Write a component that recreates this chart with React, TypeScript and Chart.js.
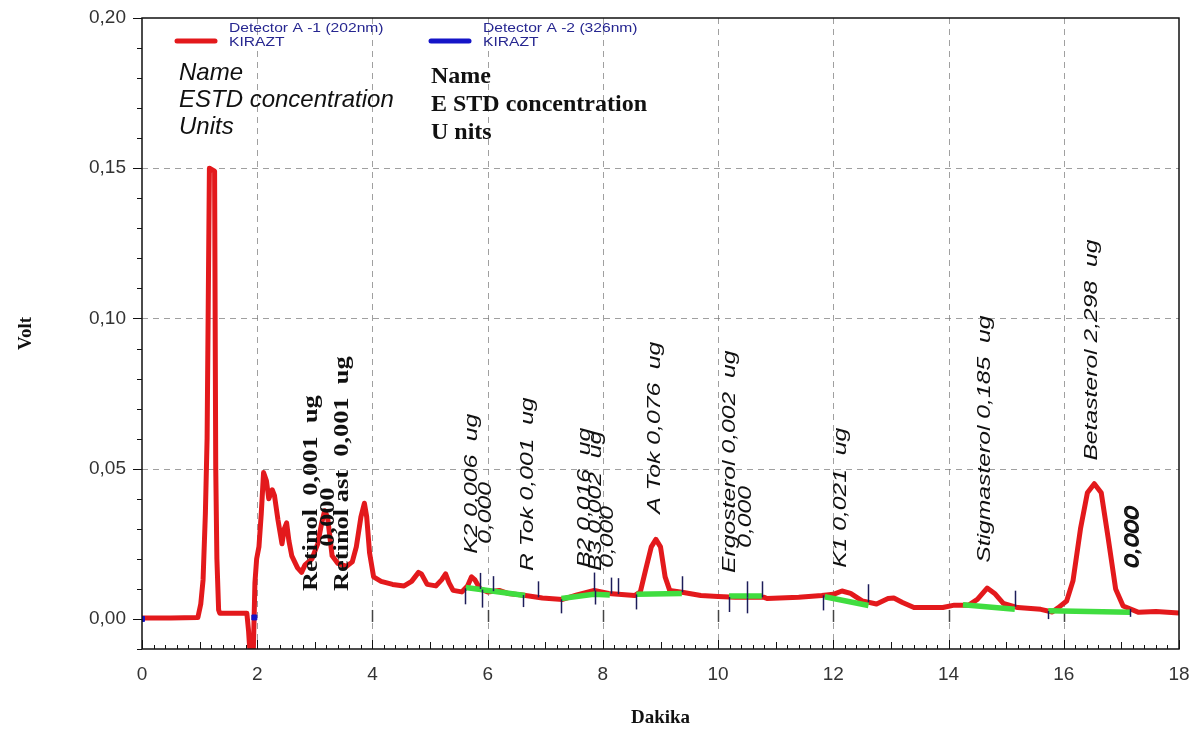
import { useEffect, useRef } from 'react';
import { Chart, registerables } from 'chart.js';
Chart.register(...registerables);

// ---------- data ----------
const xTickValues = [0, 2, 4, 6, 8, 10, 12, 14, 16, 18];
const yTickValues = [0, 0.05, 0.1, 0.15, 0.2];

// Detector A-1 (202nm) trace: time (min) / signal (V)
const redX = [
  0.0, 0.5, 0.97, 1.02, 1.06, 1.1, 1.13, 1.15, 1.17, 1.26, 1.28, 1.3, 1.33, 1.35, 1.82, 1.85, 1.88, 1.93,
  1.96, 1.99, 2.03, 2.07, 2.11, 2.16, 2.2, 2.26, 2.3, 2.36, 2.43, 2.47, 2.51, 2.55, 2.6, 2.7, 2.77, 2.83,
  2.95, 3.05, 3.12, 3.17, 3.22, 3.3, 3.4, 3.55, 3.65, 3.72, 3.8, 3.86, 3.9, 3.95, 4.02, 4.15, 4.35, 4.55,
  4.68, 4.8, 4.85, 4.95, 5.1, 5.2, 5.27, 5.33, 5.4, 5.55, 5.65, 5.72, 5.78, 5.87, 6.0, 6.2, 6.35, 6.6,
  6.95, 7.3, 7.55, 7.85, 8.1, 8.55, 8.65, 8.75, 8.84, 8.92, 9.0, 9.08, 9.16, 9.4, 9.7, 10.0, 10.3, 10.8,
  10.85, 11.4, 11.8, 12.0, 12.15, 12.3, 12.5, 12.75, 12.95, 13.05, 13.2, 13.4, 13.9, 14.1, 14.35, 14.5,
  14.67, 14.8, 14.95, 15.2, 15.6, 15.8, 15.9, 16.05, 16.16, 16.29, 16.41, 16.53, 16.65, 16.77, 16.9,
  17.03, 17.3, 17.6, 18.0,
];
const redY = [
  0.0003, 0.0003, 0.0005, 0.005, 0.013, 0.035, 0.06, 0.105, 0.15, 0.149, 0.05, 0.02, 0.003, 0.0019, 0.0019,
  -0.004, -0.013, -0.013, 0.012, 0.02, 0.024, 0.035, 0.0487, 0.046, 0.04, 0.043, 0.041, 0.033, 0.025, 0.03,
  0.032, 0.026, 0.021, 0.017, 0.0155, 0.018, 0.02, 0.025, 0.032, 0.036, 0.034, 0.021, 0.0185, 0.0175,
  0.019, 0.024, 0.034, 0.0385, 0.034, 0.022, 0.014, 0.0125, 0.0115, 0.011, 0.0125, 0.0155, 0.015, 0.0115,
  0.011, 0.013, 0.015, 0.012, 0.0095, 0.009, 0.011, 0.014, 0.013, 0.01, 0.009, 0.0095, 0.0085, 0.008,
  0.007, 0.0065, 0.008, 0.0095, 0.0085, 0.0078, 0.009, 0.017, 0.024, 0.0265, 0.024, 0.014, 0.0095, 0.0088,
  0.0078, 0.0075, 0.0072, 0.0072, 0.0068, 0.0072, 0.0078, 0.0082, 0.0093, 0.0085, 0.006, 0.005, 0.0068,
  0.007, 0.0055, 0.0038, 0.0038, 0.0046, 0.0046, 0.0065, 0.0103, 0.0085, 0.0052, 0.0038, 0.0032, 0.0023,
  0.0037, 0.006, 0.0127, 0.03, 0.042, 0.045, 0.042, 0.027, 0.01, 0.0043, 0.0022, 0.0025, 0.002,
];

// integration baselines (null = gap between peaks)
const baseX = [5.62, 6.65, 7.0, 7.28, 7.84, 8.12, 8.3, 8.58, 9.37, 9.8, 10.19, 10.76, 11.2, 11.85, 12.61, 13.5, 14.25, 15.15, 15.4, 15.73, 17.15];
const baseY = [0.0105, 0.0078, null, 0.0068, 0.0082, 0.008, null, 0.0082, 0.0085, null, 0.0076, 0.0076, null, 0.0074, 0.0045, null, 0.0047, 0.0032, null, 0.0027, 0.0022];

// Detector A-2 (326nm) visible markers
const blueX = [0, 1.95];
const blueY = [0, 0.0005];

// peak start/end event marks
const eventX = [5.61, 5.87, 5.9, 6.1, 6.62, 6.88, 7.28, 7.84, 7.86, 8.14, 8.26, 8.58, 9.37, 10.19, 10.5, 10.5, 10.76, 11.82, 12.61, 15.15, 15.73, 17.15];
const eventDir = [-1, 1, -1, 1, -1, 1, -1, 1, -1, 1, 1, -1, 1, -1, 1, -1, 1, -1, 1, 1, -1, -1];
const eventLen = [16, 16, 18, 15, 12, 16, 14, 18, 14, 16, 16, 15, 16, 15, 16, 16, 16, 15, 18, 16, 8, 8];

// peak annotations
const peakText = [
  'Retinol  0,001  ug', 'Retinol ast  0,001  ug', '0,000',
  'K2 0,006  ug', '0,000', 'R Tok 0,001  ug', 'B2 0,016  ug', 'B3 0,002  ug', '0,000',
  'A Tok 0,076  ug', 'Ergosterol 0,002  ug', '0,000', 'K1 0,021  ug', 'Stigmasterol 0,185  ug',
  'Betasterol 2,298  ug', '0,000', '0,000', '0,000',
];
const peakX = [2.95, 3.48, 3.24, 5.72, 5.96, 6.7, 7.69, 7.87, 8.09, 8.9, 10.2, 10.48, 12.13, 14.62, 16.49, 17.18, 17.2, 17.22];
const peakY = [0.0093, 0.0093, 0.024, 0.0217, 0.025, 0.016, 0.017, 0.016, 0.017, 0.035, 0.0153, 0.0237, 0.017, 0.0187, 0.0527, 0.017, 0.0172, 0.0168];
const peakSerif = [true, true, true, false, false, false, false, false, false, false, false, false, false, false, false, false, false, false];

const legendNames = ['Detector A -1 (202nm)', 'Detector A -2 (326nm)'];
const legendSub = ['KIRAZT', 'KIRAZT'];
const legendColors = ['#e3191c', '#1515c8'];
const headerLeft = ['Name', 'ESTD concentration', 'Units'];
const headerRight = ['Name', 'E STD concentration', 'U nits'];
const xTitle = 'Dakika';
const yTitle = 'Volt';

const SANS = '"Liberation Sans", Arial, sans-serif';
const SERIF = '"Liberation Serif", "Times New Roman", serif';

function interpRed(x: number): number {
  for (let i = 1; i < redX.length; i++) {
    if (x <= redX[i]) {
      const t = (x - redX[i - 1]) / (redX[i] - redX[i - 1]);
      return redY[i - 1] + t * (redY[i] - redY[i - 1]);
    }
  }
  return redY[redY.length - 1];
}

const decor = {
  id: 'chromDecor',
  beforeDatasetsDraw(chart: any) {
    const { ctx, chartArea: a, scales } = chart;
    const xs = scales.x, ys = scales.y;
    ctx.save();
    ctx.strokeStyle = 'rgba(120,120,120,0.7)';
    ctx.lineWidth = 1;
    ctx.setLineDash([6, 5]);
    xTickValues.forEach((v) => {
      if (v === xs.min || v === xs.max) return;
      const px = Math.round(xs.getPixelForValue(v)) + 0.5;
      ctx.beginPath(); ctx.moveTo(px, a.top); ctx.lineTo(px, a.bottom); ctx.stroke();
    });
    yTickValues.forEach((v) => {
      if (v === 0 || v === ys.max) return;
      const py = Math.round(ys.getPixelForValue(v)) + 0.5;
      ctx.beginPath(); ctx.moveTo(a.left, py); ctx.lineTo(a.right, py); ctx.stroke();
    });
    ctx.setLineDash([]);
    ctx.strokeStyle = '#444';
    ctx.lineWidth = 1.5;
    xTickValues.forEach((v) => {
      if (v <= 2 || v === xs.max) return;
      const px = Math.round(xs.getPixelForValue(v)) + 0.5;
      ctx.beginPath(); ctx.moveTo(px, ys.getPixelForValue(0.003)); ctx.lineTo(px, ys.getPixelForValue(-0.001)); ctx.stroke();
    });
    ctx.restore();
  },
  afterDatasetsDraw(chart: any) {
    const { ctx, chartArea: a, scales } = chart;
    const xs = scales.x, ys = scales.y;
    ctx.save();
    // event marks
    ctx.strokeStyle = '#1c1c5a';
    ctx.lineWidth = 1.5;
    eventX.forEach((x, i) => {
      const px = Math.round(xs.getPixelForValue(x)) + 0.5;
      const py = ys.getPixelForValue(interpRed(x));
      ctx.beginPath();
      ctx.moveTo(px, py);
      ctx.lineTo(px, py - eventDir[i] * eventLen[i]);
      ctx.stroke();
    });
    // peak labels
    ctx.fillStyle = '#111';
    peakText.forEach((t, i) => {
      const px = xs.getPixelForValue(peakX[i]);
      const py = ys.getPixelForValue(peakY[i]);
      ctx.save();
      ctx.translate(px, py);
      ctx.rotate(-Math.PI / 2);
      if (peakSerif[i]) {
        ctx.scale(1.32, 1);
        ctx.font = `bold 20px ${SERIF}`;
      } else {
        ctx.scale(1.3, 1);
        ctx.font = `italic 19px ${SANS}`;
      }
      ctx.textAlign = 'left';
      ctx.textBaseline = 'middle';
      ctx.fillText(t, 0, 0);
      ctx.restore();
    });
    // frame
    ctx.strokeStyle = '#111';
    ctx.lineWidth = 1.5;
    ctx.strokeRect(a.left, a.top, a.right - a.left, a.bottom - a.top);
    // y ticks (outside)
    ctx.lineWidth = 1;
    for (let k = -1; k <= 20; k++) {
      const v = k / 100;
      const py = Math.round(ys.getPixelForValue(v)) + 0.5;
      const len = k % 5 === 0 ? 9 : 5;
      ctx.beginPath(); ctx.moveTo(a.left - len, py); ctx.lineTo(a.left, py); ctx.stroke();
    }
    // x ticks (inside)
    for (let k = 0; k <= 90; k++) {
      const v = k * 0.2;
      const px = Math.round(xs.getPixelForValue(v)) + 0.5;
      const len = k % 10 === 0 ? 9 : k % 5 === 0 ? 7 : 4;
      ctx.beginPath(); ctx.moveTo(px, a.bottom); ctx.lineTo(px, a.bottom - len); ctx.stroke();
    }
    // legend
    legendNames.forEach((name, i) => {
      const lx = a.left + 35 + i * 254;
      ctx.strokeStyle = legendColors[i];
      ctx.lineWidth = 5;
      ctx.lineCap = 'round';
      ctx.beginPath(); ctx.moveTo(lx, a.top + 23); ctx.lineTo(lx + 38, a.top + 23); ctx.stroke();
      ctx.fillStyle = '#262690';
      ctx.font = `12.5px ${SANS}`;
      ctx.textAlign = 'left';
      ctx.textBaseline = 'middle';
      ctx.save();
      ctx.translate(lx + 52, 0);
      ctx.scale(1.25, 1);
      ctx.fillText(name, 0, a.top + 11);
      ctx.fillText(legendSub[i], 0, a.top + 25);
      ctx.restore();
    });
    // header text
    ctx.fillStyle = '#111';
    ctx.textBaseline = 'alphabetic';
    ctx.font = `italic 24px ${SANS}`;
    headerLeft.forEach((t, i) => ctx.fillText(t, a.left + 37, a.top + 62 + i * 27));
    ctx.font = `bold 24px ${SERIF}`;
    headerRight.forEach((t, i) => ctx.fillText(t, a.left + 289, a.top + 65 + i * 28));
    // axis titles
    ctx.font = `bold 19px ${SERIF}`;
    ctx.textAlign = 'center';
    ctx.textBaseline = 'middle';
    ctx.fillText(xTitle, (a.left + a.right) / 2, a.bottom + 69);
    ctx.save();
    ctx.translate(a.left - 116, (a.top + a.bottom) / 2);
    ctx.rotate(-Math.PI / 2);
    ctx.fillText(yTitle, 0, 0);
    ctx.restore();
    ctx.restore();
  },
};

const zeroPad = (s: any) => {
  s.paddingTop = 0;
  s.paddingBottom = 0;
  s.paddingLeft = 0;
  s.paddingRight = 0;
};

export default function App() {
  const ref = useRef<HTMLCanvasElement>(null);
  useEffect(() => {
    const canvas = ref.current!;
    const pts = (xs: number[], ys: (number | null)[]) => xs.map((x, i) => ({ x, y: ys[i] }));
    const chart = new Chart(canvas, {
      type: 'line',
      data: {
        datasets: [
          {
            label: legendNames[1],
            data: pts(blueX, blueY) as any,
            showLine: false,
            pointRadius: 3.5,
            pointStyle: 'rect',
            backgroundColor: '#1515c8',
            borderColor: '#1515c8',
          },
          {
            label: 'baseline',
            data: pts(baseX, baseY) as any,
            borderColor: '#40dd40',
            borderWidth: 5.5,
            pointRadius: 0,
            spanGaps: false,
            tension: 0,
          },
          {
            label: legendNames[0],
            data: pts(redX, redY) as any,
            borderColor: '#e3191c',
            borderWidth: 5,
            pointRadius: 0,
            tension: 0,
            borderJoinStyle: 'round',
          },
        ],
      },
      options: {
        responsive: false,
        animation: false,
        devicePixelRatio: 1,
        layout: { padding: { top: 18, right: 22, left: 0, bottom: 0 } },
        plugins: { legend: { display: false }, tooltip: { enabled: false }, title: { display: false } },
        scales: {
          x: {
            type: 'linear',
            min: 0,
            max: 18,
            afterFit: (s: any) => { s.height = 86; zeroPad(s); },
            afterBuildTicks: (s: any) => { s.ticks = xTickValues.map((v) => ({ value: v })); },
            grid: { display: false, drawTicks: false },
            border: { display: false },
            ticks: {
              padding: 14,
              autoSkip: false,
              maxRotation: 0,
              color: '#333',
              font: { family: SANS, size: 19 },
              callback: (v: any) => String(v),
            },
          },
          y: {
            type: 'linear',
            min: -0.01,
            max: 0.2,
            afterFit: (s: any) => { s.width = 142; zeroPad(s); },
            afterBuildTicks: (s: any) => { s.ticks = yTickValues.map((v) => ({ value: v })); },
            grid: { display: false, drawTicks: false },
            border: { display: false },
            ticks: {
              padding: 16,
              autoSkip: false,
              color: '#333',
              font: { family: SANS, size: 19 },
              callback: (v: any) => Number(v).toFixed(2).replace('.', ','),
            },
          },
        },
      },
      plugins: [decor],
    });
    return () => chart.destroy();
  }, []);
  return (
    <div style={{ position: 'absolute', left: 0, top: 0, width: 1201, height: 735, background: '#fff' }}>
      <canvas ref={ref} width={1201} height={735} style={{ display: 'block' }} />
    </div>
  );
}
